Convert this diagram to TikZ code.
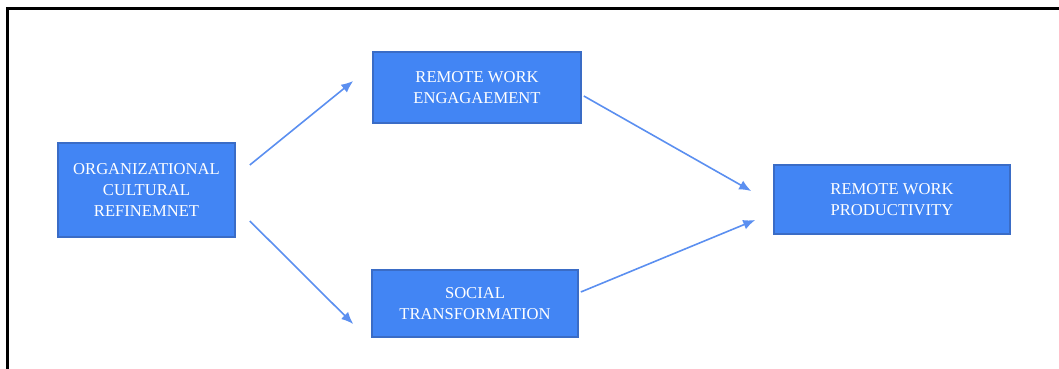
\documentclass[tikz,border=0pt]{standalone}
\usepackage{fontspec}
\setmainfont{Liberation Serif}
\usepackage{tikz}
\usetikzlibrary{arrows.meta}

\definecolor{boxblue}{HTML}{4285F4}
\definecolor{boxedge}{HTML}{3A6CC6}
\definecolor{arrblue}{HTML}{5B8FF0}

\tikzset{
  varbox/.style={draw=boxedge, line width=1.6pt, fill=boxblue, text=white, align=center,
                 inner sep=0pt, font=\fontsize{16.6}{21}\selectfont},
  link/.style={draw=arrblue, line width=1.6pt, -{Latex[length=12pt,width=10pt]}}
}

\begin{document}
\begin{tikzpicture}[x=1pt,y=1pt]
          \useasboundingbox (0,0) rectangle (1059,-369);
          \draw[line width=3pt] (7,-369) -- (7,-9) -- (1059,-9);

          \node[varbox, minimum width=177, minimum height=94] (ocr) at (146.5,-190)
                {ORGANIZATIONAL\\CULTURAL\\REFINEMNET};
          \node[varbox, minimum width=208, minimum height=71] (rwe) at (477,-87.5)
                {REMOTE WORK\\ENGAGAEMENT};
          \node[varbox, minimum width=206, minimum height=67] (st) at (475,-303.5)
                {SOCIAL\\TRANSFORMATION};
          \node[varbox, minimum width=236, minimum height=69] (rwp) at (892,-199.5)
                {REMOTE WORK\\PRODUCTIVITY};

          \draw[link] ([shift={(14,25)}]ocr.east) -- ([shift={(-19,6.5)}]rwe.west);
          \draw[link] ([shift={(14,-31)}]ocr.east) -- ([shift={(-18,-20.5)}]st.west);
          \draw[link] ([shift={(2,-8.5)}]rwe.east) -- ([shift={(-22,8.5)}]rwp.west);
          \draw[link] ([shift={(2,11.5)}]st.east) -- ([shift={(-18,-20.5)}]rwp.west);
        \end{tikzpicture}
\end{document}
